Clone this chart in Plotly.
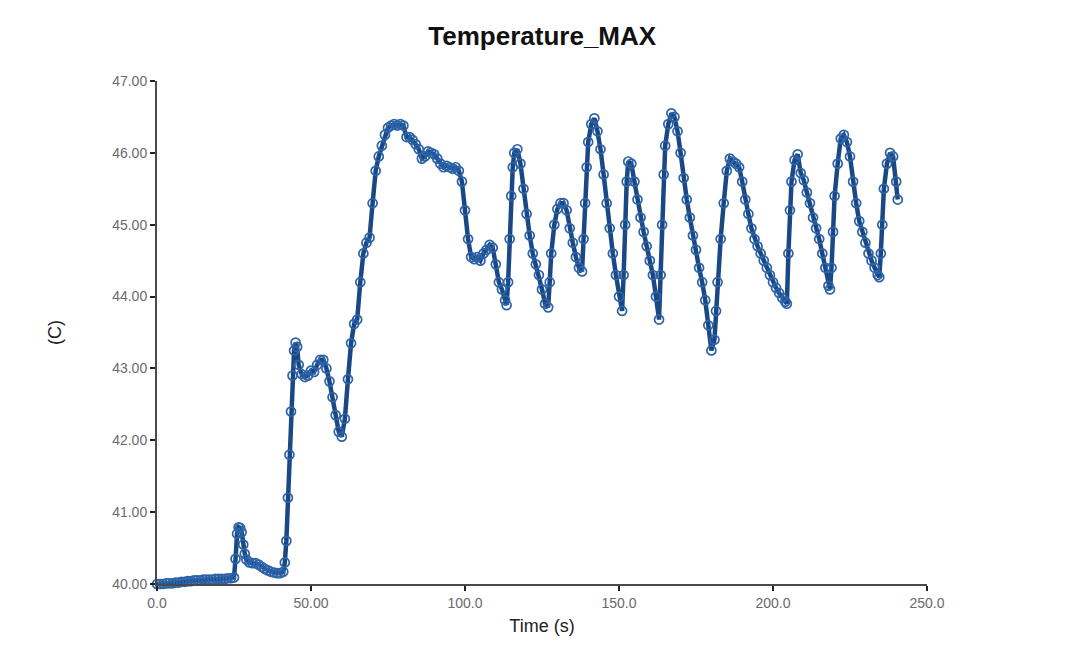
import plotly.graph_objects as go

# ---- data ----
time_s = [
    0, 1, 2, 3, 4, 5, 6, 7, 8, 9,
    10, 11, 12, 13, 14, 15, 16, 17, 18, 19,
    20, 21, 22, 23, 24, 25, 25.5, 26, 26.5, 27,
    27.5, 28, 28.5, 29, 30, 31, 32, 33, 34, 35,
    36, 37, 38, 39, 40, 41, 41.5, 42, 42.5, 43,
    43.5, 44, 44.5, 45, 45.5, 46, 47, 48, 49, 50,
    51, 52, 53, 54, 55, 56, 57, 58, 59, 60,
    61, 62, 63, 64, 65, 66, 67, 68, 69, 70,
    71, 72, 73, 74, 75, 76, 77, 78, 79, 80,
    81, 82, 83, 84, 85, 86, 87, 88, 89, 90,
    91, 92, 93, 94, 95, 96, 97, 98, 99, 100,
    101, 102, 103, 104, 105, 106, 107, 108, 109, 110,
    111, 112, 113, 113.5, 114, 114.5, 115, 115.5, 116, 117,
    118, 119, 120, 121, 122, 123, 124, 125, 126, 127,
    127.5, 128, 129, 130, 131, 132, 133, 134, 135, 136,
    137, 138, 138.5, 139, 139.5, 140, 141, 142, 143, 144,
    145, 146, 147, 148, 149, 150, 151, 151.5, 152, 152.5,
    153, 154, 155, 156, 157, 158, 159, 160, 161, 162,
    163, 163.5, 164, 164.5, 165, 166, 167, 168, 169, 170,
    171, 172, 173, 174, 175, 176, 177, 178, 179, 180,
    181, 181.5, 182, 183, 184, 185, 186, 187, 188, 189,
    190, 191, 192, 193, 194, 195, 196, 197, 198, 199,
    200, 201, 202, 203, 204, 204.5, 205, 205.5, 206, 207,
    208, 209, 210, 211, 212, 213, 214, 215, 216, 217,
    218, 218.5, 219, 219.5, 220, 221, 222, 223, 224, 225,
    226, 227, 228, 229, 230, 231, 232, 233, 234, 234.5,
    235, 235.5, 236, 237, 238, 239, 240, 240.5,
]

temp_c = [
    40.00, 40.00, 40.00, 40.01, 40.01, 40.01, 40.02, 40.02, 40.03, 40.03,
    40.04, 40.04, 40.05, 40.05, 40.05, 40.06, 40.06, 40.06, 40.06, 40.07,
    40.07, 40.07, 40.07, 40.08, 40.08, 40.09, 40.35, 40.70, 40.79, 40.78,
    40.72, 40.55, 40.42, 40.34, 40.30, 40.29, 40.29, 40.27, 40.24, 40.21,
    40.19, 40.17, 40.16, 40.15, 40.15, 40.17, 40.30, 40.60, 41.20, 41.80,
    42.40, 42.90, 43.25, 43.36, 43.30, 43.05, 42.92, 42.88, 42.90, 42.97,
    42.95, 43.05, 43.12, 43.12, 43.00, 42.82, 42.60, 42.35, 42.12, 42.05,
    42.30, 42.85, 43.35, 43.62, 43.68, 44.20, 44.60, 44.75, 44.82, 45.30,
    45.75, 45.95, 46.10, 46.25, 46.35, 46.38, 46.40, 46.38, 46.40, 46.38,
    46.22, 46.22, 46.18, 46.12, 46.05, 45.92, 45.95, 46.02, 46.00, 45.98,
    45.92, 45.85, 45.80, 45.82, 45.80, 45.78, 45.80, 45.75, 45.60, 45.20,
    44.80, 44.55, 44.52, 44.55, 44.50, 44.60, 44.65, 44.72, 44.68, 44.45,
    44.20, 44.10, 43.95, 43.88, 44.20, 44.80, 45.40, 45.80, 46.00, 46.05,
    45.85, 45.50, 45.15, 44.85, 44.60, 44.45, 44.30, 44.10, 43.90, 43.85,
    44.20, 44.60, 45.00, 45.22, 45.30, 45.30, 45.20, 44.95, 44.75, 44.55,
    44.40, 44.35, 44.80, 45.30, 45.80, 46.15, 46.40, 46.48, 46.30, 46.05,
    45.70, 45.30, 44.95, 44.60, 44.30, 44.00, 43.80, 44.30, 45.00, 45.60,
    45.88, 45.85, 45.60, 45.35, 45.10, 44.90, 44.70, 44.50, 44.30, 44.00,
    43.68, 44.30, 45.00, 45.70, 46.10, 46.40, 46.55, 46.50, 46.30, 46.00,
    45.65, 45.35, 45.10, 44.85, 44.65, 44.40, 44.20, 43.95, 43.60, 43.25,
    43.40, 43.80, 44.20, 44.80, 45.30, 45.75, 45.92, 45.88, 45.85, 45.80,
    45.60, 45.35, 45.15, 44.95, 44.80, 44.70, 44.60, 44.50, 44.40, 44.30,
    44.20, 44.12, 44.05, 43.98, 43.93, 43.90, 44.60, 45.20, 45.60, 45.90,
    45.98, 45.72, 45.62, 45.45, 45.30, 45.10, 44.95, 44.80, 44.60, 44.40,
    44.15, 44.10, 44.40, 44.90, 45.40, 45.85, 46.20, 46.25, 46.15, 45.95,
    45.60, 45.30, 45.05, 44.90, 44.75, 44.60, 44.50, 44.40, 44.30, 44.27,
    44.60, 45.00, 45.50, 45.85, 46.00, 45.95, 45.60, 45.35,
]

x_tick_vals = [0, 50, 100, 150, 200, 250]
x_tick_text = ["0.0", "50.00", "100.0", "150.0", "200.0", "250.0"]
y_tick_vals = [40, 41, 42, 43, 44, 45, 46, 47]
y_tick_text = ["40.00", "41.00", "42.00", "43.00", "44.00", "45.00", "46.00", "47.00"]

FONT = "Liberation Sans, Arial, sans-serif"

fig = go.Figure()
fig.add_trace(go.Scatter(
    x=time_s, y=temp_c,
    mode="lines+markers",
    line=dict(color="#1a4884", width=4.5),
    marker=dict(symbol="circle-open", size=9, color="#2d63a8",
                line=dict(width=1.7, color="#2d63a8")),
    cliponaxis=False,
    showlegend=False,
))

fig.update_layout(
    width=1078, height=656,
    paper_bgcolor="white", plot_bgcolor="white",
    margin=dict(l=157, r=151, t=81, b=72),
    title=dict(text="<b>Temperature_MAX</b>", x=0.503, xanchor="center",
               y=0.946, yanchor="middle",
               font=dict(family=FONT, size=26, color="#111111")),
    font=dict(family=FONT),
)

fig.update_xaxes(
    range=[0, 250], tickmode="array", tickvals=x_tick_vals, ticktext=x_tick_text,
    showgrid=False, zeroline=False,
    showline=True, linecolor="#4a4a4a", linewidth=2,
    ticks="outside", ticklen=5, tickwidth=2, tickcolor="#222222",
    tickfont=dict(family=FONT, size=14, color="#6a6a6a"),
    title=dict(text="Time (s)", standoff=10,
               font=dict(family=FONT, size=18, color="#222222")),
)
fig.update_yaxes(
    range=[40, 47], tickmode="array", tickvals=y_tick_vals, ticktext=y_tick_text,
    showgrid=False, zeroline=False,
    showline=True, linecolor="#4a4a4a", linewidth=2,
    ticks="outside", ticklen=5, tickwidth=2, tickcolor="#222222",
    tickfont=dict(family=FONT, size=14, color="#6a6a6a"),
    title=dict(text="(C)", standoff=46,
               font=dict(family=FONT, size=18, color="#222222")),
)

fig.write_html("out.html")
